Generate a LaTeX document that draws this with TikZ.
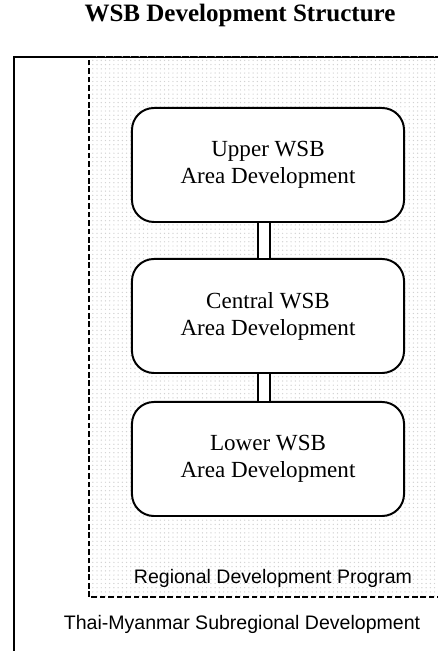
\documentclass[tikz,border=0pt]{standalone}
\usepackage{fontspec}
\setmainfont{Liberation Serif}
\setsansfont{Liberation Sans}
\usetikzlibrary{patterns}
\begin{document}
\begin{tikzpicture}[x=0.025cm,y=0.025cm,
	area/.style={draw,line width=1.4pt,rounded corners=0.55cm,fill=white,minimum width=6.8cm,minimum height=2.85cm,align=center,font=\fontsize{16.4}{19.2}\selectfont},
	link/.style={line width=1.6pt,double,double distance=6.5pt},
	caption/.style={font=\sffamily\fontsize{13.9}{16}\selectfont}]
		\useasboundingbox (0,0) rectangle (438,651);
		\clip (0,0) rectangle (438,651);
		% subregional frame and regional program area
		\draw[line width=1.3pt] (14,-10) rectangle (460,594);
		\draw[pattern=dots,pattern color=gray!35,line width=1.4pt,dash pattern=on 4pt off 2pt] (89,54) rectangle (460,594);
		\node[font=\bfseries\fontsize{17.8}{20}\selectfont] (title) at (240,636) {WSB Development Structure};
		\node[area] (upper) at (268,486) {Upper WSB\\Area Development};
		\node[area] (central) at (268,335) {Central WSB\\Area Development};
		\node[area] (lower) at (268,192) {Lower WSB\\Area Development};
		\draw[link] ([xshift=-0.1cm]upper.south) -- ([xshift=-0.1cm]central.north);
		\draw[link] ([xshift=-0.1cm]central.south) -- ([xshift=-0.1cm]lower.north);
		\node[caption] (regional) at (273,73) {Regional Development Program};
		\node[caption] (subregional) at (242,27) {Thai-Myanmar Subregional Development};
\end{tikzpicture}
\end{document}
